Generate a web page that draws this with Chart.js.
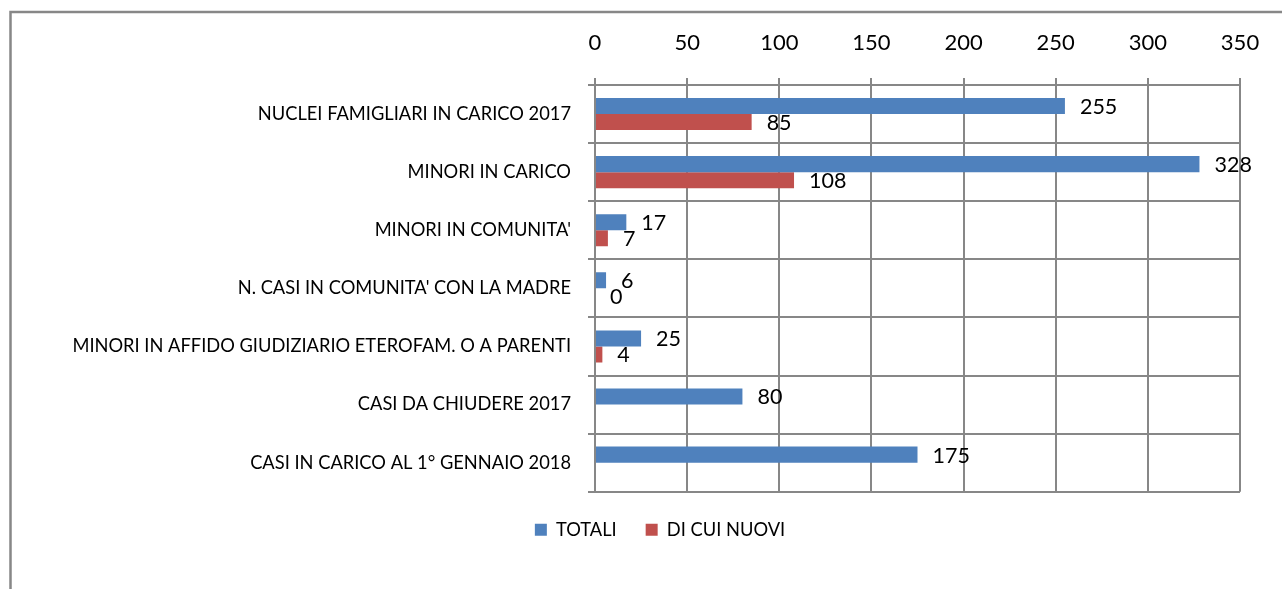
<!DOCTYPE html>
<html>
<head>
<meta charset="utf-8">
<script src="https://cdn.jsdelivr.net/npm/chart.js@4.4.1/dist/chart.umd.min.js"></script>
<style>
    html, body { margin: 0; padding: 0; background: #fff; }
    #wrap { width: 1282px; height: 589px; }
</style>
</head>
<body>
<div id="wrap"><canvas id="chart" width="1282" height="589"></canvas></div>
<script>
// Categories (top to bottom) and the two series
const categories = [
    'NUCLEI FAMIGLIARI IN CARICO 2017',
    'MINORI IN CARICO',
    "MINORI IN COMUNITA'",
    "N. CASI IN COMUNITA' CON LA MADRE",
    'MINORI IN AFFIDO GIUDIZIARIO ETEROFAM. O A PARENTI',
    'CASI DA CHIUDERE 2017',
    'CASI IN CARICO AL 1° GENNAIO 2018'
];
const totali = [255, 328, 17, 6, 25, 80, 175];
const nuovi = [85, 108, 7, 0, 4, null, null];
const seriesNames = ['TOTALI', 'DI CUI NUOVI'];
const axisMin = 0;
const axisMax = 350;
const axisStep = 50;

const GRID = '#878787';
const FONT = 'Lato';

/**
 * Outer frame of the chart object (runs off the right and bottom edge)
 */
const frame = {
    id: 'frame',
    beforeDraw(chart) {
        const ctx = chart.ctx;
        ctx.save();
        ctx.fillStyle = '#fff';
        ctx.fillRect(0, 0, chart.width, chart.height);
        ctx.strokeStyle = GRID;
        ctx.lineWidth = 2.5;
        ctx.beginPath();
        ctx.moveTo(10.5, chart.height + 5);
        ctx.lineTo(10.5, 12);
        ctx.lineTo(chart.width + 5, 12);
        ctx.stroke();
        ctx.restore();
    }
};

/**
 * Centre the legend a bit right of the canvas middle, like the original
 */
const legendShift = {
    id: 'legendShift',
    afterLayout(chart) {
        const lg = chart.legend;
        if (!lg) return;
        lg.left = 80;
        lg.width = lg.right - lg.left;
    }
};

/**
 * Value labels at the end of each bar
 */
const valueLabels = {
    id: 'valueLabels',
    afterDatasetsDraw(chart) {
        const ctx = chart.ctx;
        ctx.save();
        ctx.font = '21.5px ' + FONT;
        ctx.fillStyle = '#000';
        ctx.textAlign = 'left';
        ctx.textBaseline = 'middle';
        chart.data.datasets.forEach((ds, i) => {
            chart.getDatasetMeta(i).data.forEach((bar, j) => {
                const v = ds.data[j];
                if (v === null || v === undefined) return;
                ctx.fillText(String(v), bar.x + 15, bar.y + 1);
            });
        });
        ctx.restore();
    }
};

new Chart(document.getElementById('chart'), {
    type: 'bar',
    data: {
        labels: categories,
        datasets: [
            {
                label: seriesNames[0],
                data: totali,
                backgroundColor: '#4F81BD',
                categoryPercentage: 0.552,
                barPercentage: 1
            },
            {
                label: seriesNames[1],
                data: nuovi,
                backgroundColor: '#C0504D',
                categoryPercentage: 0.552,
                barPercentage: 1
            }
        ]
    },
    options: {
        indexAxis: 'y',
        responsive: false,
        animation: false,
        devicePixelRatio: 1,
        layout: {
            padding: { left: 0, top: 0, right: 42, bottom: 40 }
        },
        plugins: {
            tooltip: { enabled: false },
            legend: {
                position: 'bottom',
                labels: {
                    boxWidth: 12,
                    boxHeight: 12,
                    padding: 29,
                    color: '#000',
                    font: { family: FONT, size: 18.3 }
                }
            }
        },
        scales: {
            x: {
                position: 'top',
                min: axisMin,
                max: axisMax,
                afterFit: (s) => { s.height = 85; },
                ticks: {
                    stepSize: axisStep,
                    padding: 22,
                    color: '#000',
                    font: { family: FONT, size: 22 }
                },
                grid: {
                    color: GRID,
                    lineWidth: 2,
                    tickLength: 7
                },
                border: { color: GRID, width: 2 }
            },
            y: {
                afterFit: (s) => { s.width = 595; },
                ticks: {
                    padding: 17,
                    color: '#000',
                    font: { family: FONT, size: 18.3 }
                },
                grid: {
                    color: GRID,
                    lineWidth: 2,
                    tickLength: 7,
                    offset: true
                },
                border: { color: GRID, width: 2 }
            }
        }
    },
    plugins: [frame, legendShift, valueLabels]
});
</script>
</body>
</html>
